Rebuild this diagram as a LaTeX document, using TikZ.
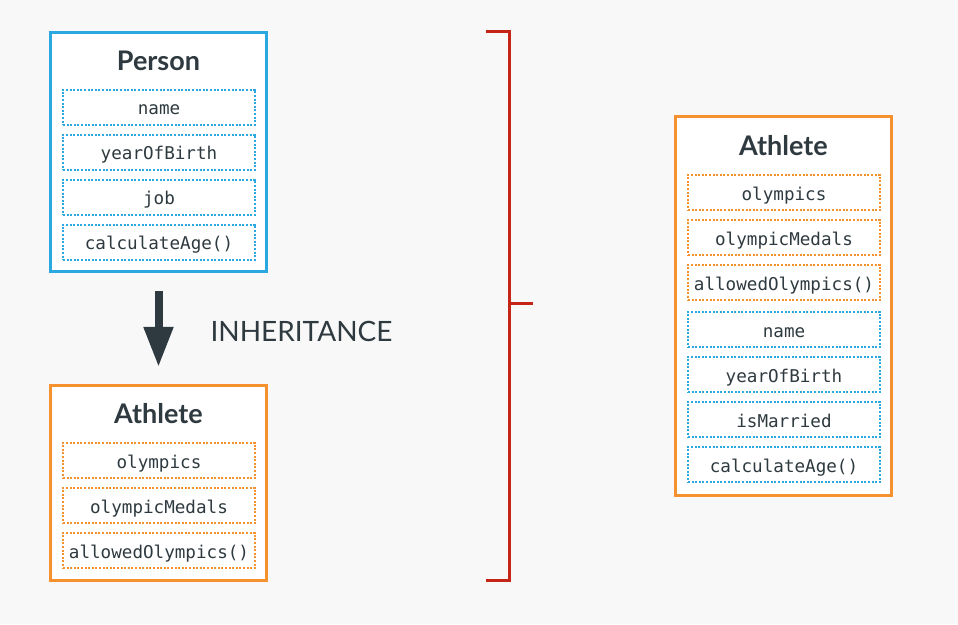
\documentclass[tikz,border=0pt]{standalone}
\usepackage{fontspec}
\setmainfont{Lato}
\setmonofont{DejaVu Sans Mono}
\usetikzlibrary{positioning, arrows.meta}

\definecolor{bluec}{HTML}{2CA8E0}
\definecolor{orangec}{HTML}{F5922F}
\definecolor{redc}{HTML}{C42517}
\definecolor{textc}{HTML}{2E3A3F}
\definecolor{bgc}{HTML}{F8F8F8}

\begin{document}
\begin{tikzpicture}[x=1pt,y=-1pt,node distance=8pt,
    classbox/.style={draw=#1, line width=3.2pt, fill=white, minimum width=216pt, inner sep=0pt},
    classtitle/.style={anchor=base, text=textc, font=\bfseries\fontsize{27}{30}\selectfont},
    field/.style={draw=#1, line width=2pt, dash pattern=on 2pt off 1.6pt, fill=white,
        minimum width=192pt, minimum height=35pt, inner sep=0pt, text=textc,
        text height=15pt, text depth=0pt,
        font=\ttfamily\fontsize{17.6}{20}\selectfont}]
    \fill[bgc] (0,0) rectangle (958,624);
    \useasboundingbox (0,0) rectangle (958,624);

    % Person
    \node[classbox=bluec, minimum height=239pt] (person) at (158.5,152) {};
    \node[classtitle] (persontitle) at (158.5,70) {Person};
    \node[field=bluec] (pname) at (159,107) {name};
    \node[field=bluec] (pyear) [below=of pname] {yearOfBirth};
    \node[field=bluec] (pjob) [below=of pyear] {job};
    \node[field=bluec] (pcalc) [below=of pjob] {calculateAge()};

    % Athlete (subclass)
    \node[classbox=orangec, minimum height=195pt] (athlete) at (158.5,483) {};
    \node[classtitle] (athletetitle) at (158.5,423) {Athlete};
    \node[field=orangec] (aoly) at (159,460.5) {olympics};
    \node[field=orangec] (amed) [below=of aoly] {olympicMedals};
    \node[field=orangec] (aallow) [below=of amed] {allowedOlympics()};

    \draw[-{Triangle[length=40pt,width=28pt]}, line width=8pt, textc,
        shorten <=18pt, shorten >=17pt] (person.south) -- (athlete.north);
    \node[anchor=base west, text=textc, font=\fontsize{28}{30}\selectfont]
        (inherit) at (207,341) {INHERITANCE};

    % bracket
    \coordinate (btop) at (486,31);
    \coordinate (bbot) at (486,580);
    \coordinate (bmid) at (509,303);
    \coordinate (btip) at (533,303);
    \draw[redc, line width=3pt] (btop) -| (509,580) -- (bbot);
    \draw[redc, line width=3pt] (bmid) -- (btip);

    % Athlete (full)
    \node[classbox=orangec, minimum height=379pt] (full) at (783.5,306) {};
    \node[classtitle] (fulltitle) at (783.5,155) {Athlete};
    \node[field=orangec] (foly) at (784,192.5) {olympics};
    \node[field=orangec] (fmed) [below=of foly] {olympicMedals};
    \node[field=orangec] (fallow) [below=of fmed] {allowedOlympics()};
    \node[field=bluec] (fname) [below=10pt of fallow] {name};
    \node[field=bluec] (fyear) [below=of fname] {yearOfBirth};
    \node[field=bluec] (fmarried) [below=of fyear] {isMarried};
    \node[field=bluec] (fcalc) [below=of fmarried] {calculateAge()};
\end{tikzpicture}
\end{document}
